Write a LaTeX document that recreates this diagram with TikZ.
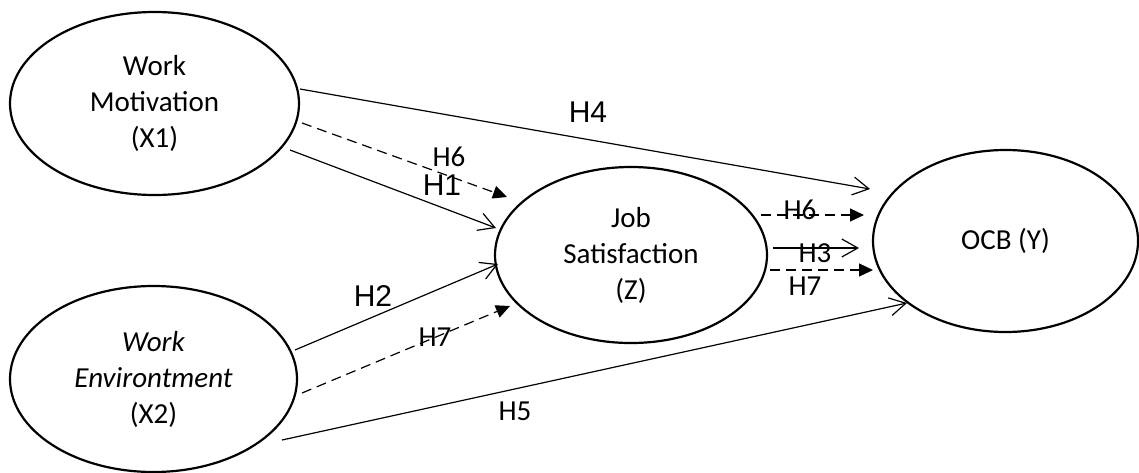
\documentclass[tikz,border=0pt]{standalone}
\usepackage{fontspec}
\setmainfont{Carlito}
\newfontfamily\arialf{Liberation Sans}
\usetikzlibrary{arrows.meta,shapes.geometric}
\tikzset{
  ell/.style={draw, ellipse, line width=2.2pt, inner sep=0pt, align=center,
    font=\fontsize{29}{36}\selectfont},
  openarr/.style={line width=1.2pt, -{Straight Barb[length=16pt,width=18pt,line width=1.2pt]}},
  filledarr/.style={line width=1.2pt, dash pattern=on 10pt off 6pt, -{Triangle[length=14pt,width=13pt]}},
  plainline/.style={line width=1.2pt},
  labA/.style={font=\arialf\fontsize{30}{30}\selectfont, inner sep=0pt},
  labC/.style={font=\fontsize{29}{29}\selectfont, inner sep=0pt},
}
\begin{document}
\begin{tikzpicture}[x=1pt,y=-1pt]
\useasboundingbox (0,0) rectangle (1139,472);
\node[ell, minimum width=289pt, minimum height=183pt] (x1) at (154.5,103.5) {Work\\Motivation\\(X1)};
\node[ell, minimum width=287pt, minimum height=186pt] (x2) at (153.5,379) {\itshape Work\\\itshape Environtment\\(X2)};
\node[ell, minimum width=272pt, minimum height=176pt] (z) at (631,255) {Job\\Satisfaction\\(Z)};
\node[ell, minimum width=265pt, minimum height=182pt] (y) at (1005.5,241) {OCB (Y)};

% H4
\draw[openarr] ([shift={(145.5,-14.5)}]x1.center) -- ([shift={(-135.5,-52)}]y.center);
% H6 (X1 -> Z)
\draw[filledarr] ([shift={(147.5,19.5)}]x1.center) -- ([shift={(-124,-58)}]z.center);
% H1
\draw[openarr] ([shift={(135.5,46.5)}]x1.center) -- ([shift={(-135,-27)}]z.center);
% H2
\draw[openarr] ([shift={(141.5,-29)}]x2.center) -- ([shift={(-133,9)}]z.center);
% H7 (X2 -> Z)
\draw[filledarr] ([shift={(148.5,14)}]x2.center) -- ([shift={(-121,51)}]z.center);
% H5
\draw[openarr] ([shift={(128.5,61)}]x2.center) -- ([shift={(-98.5,62)}]y.center);
% H6 (Z -> Y)
\draw[filledarr] ([shift={(130,-40)}]z.center) -- ([shift={(-141.5,-26)}]y.center);
% H3
\draw[openarr] ([shift={(142,-7)}]z.center) -- ([shift={(-146.5,7)}]y.center);
% H7 (Z -> Y)
\draw[filledarr] ([shift={(139,15)}]z.center) -- ([shift={(-132.5,29)}]y.center);

\node[labA] (l4) at (588,112) {H4};
\node[labC] (l6a) at (449,157) {H6};
\node[labA] (l1) at (442,185) {H1};
\node[labA] (l2) at (373,296) {H2};
\node[labC] (l7a) at (435,337) {H7};
\node[labC] (l5) at (515,411) {H5};
\node[labC] (l6b) at (800,210) {H6};
\node[labC] (l3) at (815,253) {H3};
\node[labC] (l7b) at (805,286) {H7};
\end{tikzpicture}
\end{document}
